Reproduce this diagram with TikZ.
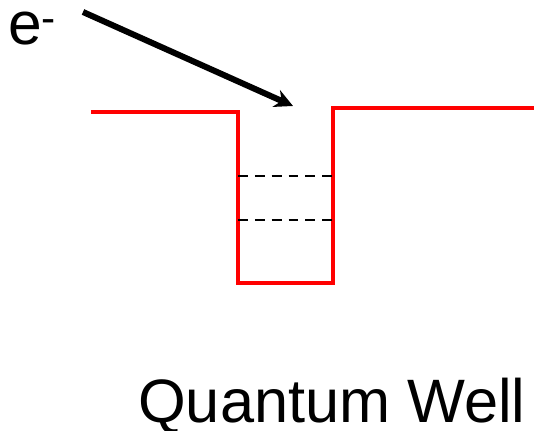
\documentclass[tikz,border=0pt]{standalone}
\usepackage{fontspec}
\setmainfont{Liberation Sans}
\usetikzlibrary{arrows.meta}

\begin{document}
\begin{tikzpicture}
	\useasboundingbox (0,0) rectangle (13.35,10.775);
	\tikzset{well/.style={red,line width=2.85pt},
		level/.style={line width=1.4pt,dash pattern=on 7pt off 5pt}}
	% potential profile
	\coordinate (L) at (2.275,7.975);
	\coordinate (A) at (5.95,7.975);
	\coordinate (B) at (5.95,3.7);
	\coordinate (C) at (8.325,3.7);
	\coordinate (D) at (8.325,8.075);
	\coordinate (R) at (13.35,8.075);
	\draw[well] (L) -- (A) -- (B) -- (C) -- (D) -- (R);
	\draw[level] (5.95,6.375) -- (8.325,6.375);
	\draw[level] (5.95,5.275) -- (8.325,5.275);
	% incoming electron
	\node[anchor=base west,font=\fontsize{43}{50}\selectfont,inner sep=0pt] (elec) at (0.2,9.65) {e\textsuperscript{-}};
	\coordinate (start) at (2.075,10.475);
	\coordinate (hit) at (7.325,8.125);
	\draw[line width=4.3pt,-{Stealth[length=13pt,width=13pt]}] (start) -- (hit);
	\node[anchor=base west,font=\fontsize{43.6}{50}\selectfont,inner sep=0pt] (title) at (3.45,0.2) {Quantum Well};
\end{tikzpicture}
\end{document}
